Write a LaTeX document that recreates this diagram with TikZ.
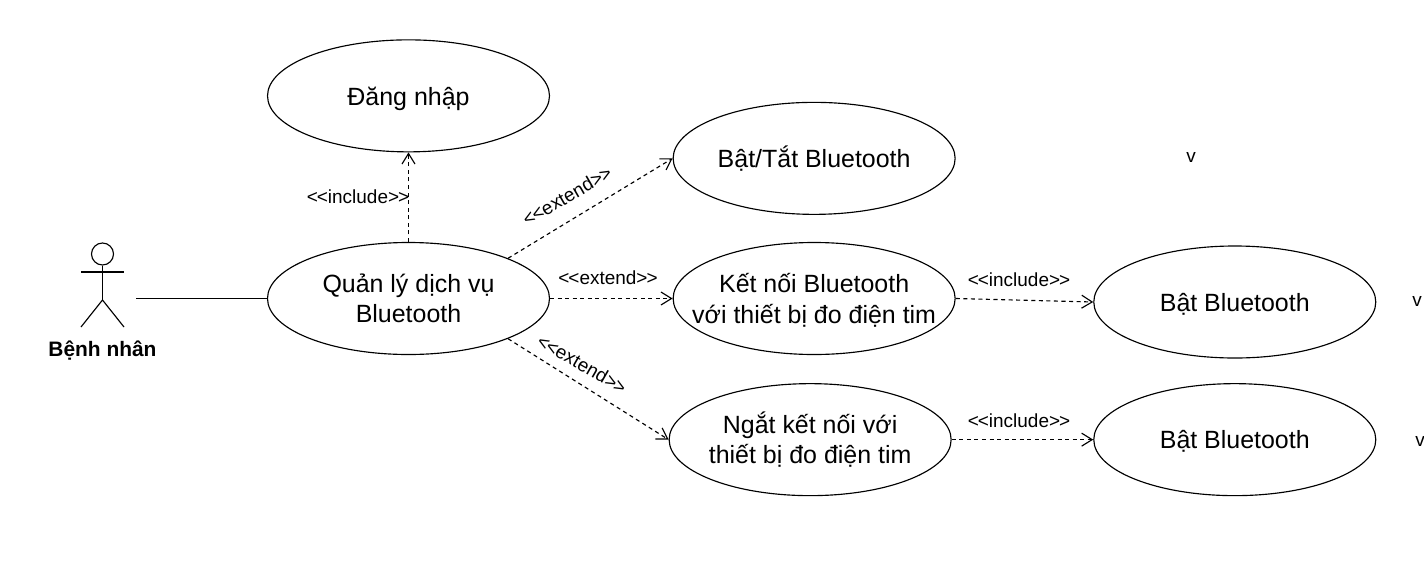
\documentclass[tikz,border=0pt]{standalone}
\usepackage{fontspec}
\setmainfont{Liberation Sans}
\usetikzlibrary{
  arrows.meta,
  positioning,
  shapes.geometric
}
\newcommand{\stereo}[1]{<\kern-0.6pt<#1>\kern-0.6pt>}

\begin{document}
\begin{tikzpicture}[
  usecase/.style={draw, ellipse, minimum width=5.64cm, minimum height=2.24cm,
                  inner xsep=-0.8cm, inner ysep=-0.3cm, align=center,
                  font=\fontsize{14.2}{17.2}\selectfont},
  oneline/.style={usecase, text depth=0pt},
  lbl/.style={inner sep=0pt, font=\fontsize{10.8}{12}\selectfont},
  arr/.style={-{Straight Barb[length=2.1mm, width=2.6mm]}, dash pattern=on 2.3pt off 2pt},
  line width=0.65pt
]
\useasboundingbox (0,0) rectangle (28.48,-11.28);

% Use cases
\node[usecase] (quan) at (8.17,-5.97) {Quản lý dịch vụ\\Bluetooth};
\node[oneline, above=1.79cm of quan] (dang) {Đăng nhập};
\node[oneline, right=2.45cm of quan] (ket) {Kết nối Bluetooth\\với thiết bị đo điện tim};
\node[usecase, above=0.54cm of ket] (battat) {Bật/Tắt Bluetooth};
\node[usecase, below=0.56cm of ket, xshift=-0.08cm] (ngat) {Ngắt kết nối với\\thiết bị đo điện tim};
\node[oneline, right=2.75cm of ket, yshift=-0.07cm] (bat_a) {Bật Bluetooth};
\node[oneline, right=2.83cm of ngat] (bat_b) {Bật Bluetooth};

% Actor
\node[draw, circle, minimum size=0.44cm, inner sep=0pt] (actor) at (2.05,-5.08) {};
\coordinate (neck) at (actor.south);
\coordinate (hip) at (2.05,-6);
\draw (neck) -- (hip);
\draw (1.62,-5.44) -- (2.48,-5.44);
\draw (1.62,-6.54) -- (hip) -- (2.48,-6.54);
\node[font=\fontsize{11.9}{14}\selectfont\bfseries, inner sep=0pt] (actor_name) at (2.05,-7.02) {Bệnh nhân};
\coordinate (actor_end) at (2.72,-5.97);
\draw (actor_end) -- (quan.west);

% Relations
\draw[arr] (quan.north) -- (dang.south);
\draw[arr] (quan.22) -- (battat.west);
\draw[arr] (quan.east) -- (ket.west);
\draw[arr] (quan.-22) -- (ngat.west);
\draw[arr] (ket.east) -- (bat_a.west);
\draw[arr] (ngat.east) -- (bat_b.west);

% Relation labels
\node[lbl] (inc_dang) at (7.16,-3.94) {\stereo{include}};
\node[lbl, rotate=30] (ext_battat) at (11.34,-3.92) {\stereo{extend}};
\node[lbl] (ext_ket) at (12.16,-5.56) {\stereo{extend}};
\node[lbl, rotate=-30] (ext_ngat) at (11.64,-7.28) {\stereo{extend}};
\node[lbl] (inc_a) at (20.38,-5.6) {\stereo{include}};
\node[lbl] (inc_b) at (20.38,-8.42) {\stereo{include}};

% Stray marks
\node[lbl] (v_a) at (23.82,-3.14) {v};
\node[lbl] (v_b) at (28.34,-6.02) {v};
\node[lbl] (v_c) at (28.4,-8.82) {v};

\end{tikzpicture}
\end{document}
